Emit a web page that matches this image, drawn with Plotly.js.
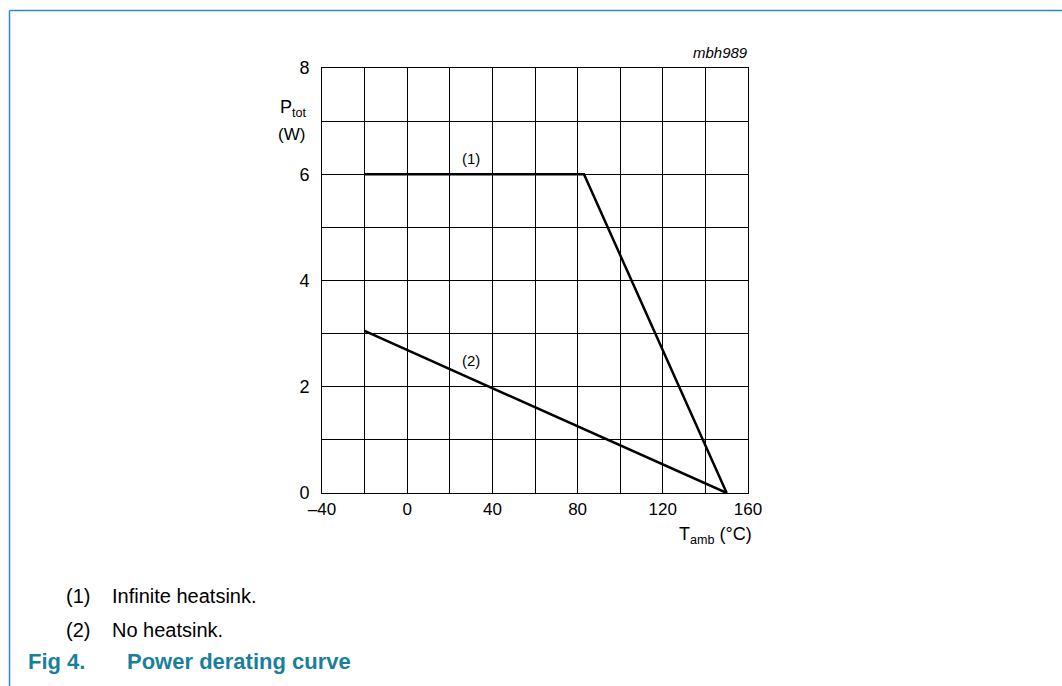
<!DOCTYPE html>
<html>
<head>
<meta charset="utf-8">
<script src="https://cdn.plot.ly/plotly-3.0.1.min.js"></script>
<style>
html,body{margin:0;padding:0;background:#fff;}
#chart{width:1062px;height:686px;}
</style>
</head>
<body>
<div id="chart"></div>
<script>
// ---- data ----
const tempInfinite = [-20, 83, 150];
const powerInfinite = [6, 6, 0];
const tempNoSink = [-20, 150];
const powerNoSink = [3.05, 0];
const xTickVals = [-40, 0, 40, 80, 120, 160];
const xTickText = ['\u201340', '0', '40', '80', '120', '160'];
const yTickVals = [0, 2, 4, 6, 8];
const curveLabels = ['(1)', '(2)'];
const curveLabelX = [30, 30];
const curveLabelY = [6.3, 2.5];
const noteNums = ['(1)', '(2)'];
const noteTexts = ['Infinite heatsink.', 'No heatsink.'];

// ---- layout helpers ----
const W = 1062, H = 686;
const L = 322, R = 748, T = 68, B = 493;
const px = x => (x - L) / (R - L);
const py = y => (B - y) / (B - T);
const FONT = 'Liberation Sans, Arial, sans-serif';
const teal = '#1a7f9c';

const traces = [
  {x: tempInfinite, y: powerInfinite, mode: 'lines', line: {color: '#000', width: 2.5}, hoverinfo: 'skip'},
  {x: tempNoSink, y: powerNoSink, mode: 'lines', line: {color: '#000', width: 2.5}, hoverinfo: 'skip'}
];

const annotations = [];
curveLabels.forEach((t, i) => annotations.push({
  x: curveLabelX[i], y: curveLabelY[i], xref: 'x', yref: 'y', text: t, showarrow: false,
  font: {family: FONT, size: 15, color: '#000'}
}));
annotations.push({x: px(750), y: py(53), xref: 'paper', yref: 'paper', xanchor: 'right', yanchor: 'middle',
  text: '<i>mbh989</i>', showarrow: false, font: {family: FONT, size: 15, color: '#000'}});
annotations.push({x: px(309), y: py(108), xref: 'paper', yref: 'paper', xanchor: 'right', yanchor: 'middle',
  text: 'P<sub>tot</sub>', showarrow: false, font: {family: FONT, size: 18, color: '#000'}});
annotations.push({x: px(307), y: py(134), xref: 'paper', yref: 'paper', xanchor: 'right', yanchor: 'middle',
  text: '(W)', showarrow: false, font: {family: FONT, size: 17, color: '#000'}});
annotations.push({x: px(754), y: py(535), xref: 'paper', yref: 'paper', xanchor: 'right', yanchor: 'middle',
  text: 'T<sub>amb</sub> (\u00B0C)', showarrow: false, font: {family: FONT, size: 18, color: '#000'}});
noteNums.forEach((n, i) => {
  const yy = [596, 630][i];
  annotations.push({x: px(64), y: py(yy), xref: 'paper', yref: 'paper', xanchor: 'left', yanchor: 'middle',
    text: n, showarrow: false, font: {family: FONT, size: 20, color: '#000'}});
  annotations.push({x: px(110), y: py(yy), xref: 'paper', yref: 'paper', xanchor: 'left', yanchor: 'middle',
    text: noteTexts[i], showarrow: false, font: {family: FONT, size: 20, color: '#000'}});
});
annotations.push({x: px(26), y: py(661), xref: 'paper', yref: 'paper', xanchor: 'left', yanchor: 'middle',
  text: '<b>Fig 4.</b>', showarrow: false, font: {family: FONT, size: 22, color: teal}});
annotations.push({x: px(125), y: py(661), xref: 'paper', yref: 'paper', xanchor: 'left', yanchor: 'middle',
  text: '<b>Power derating curve</b>', showarrow: false, font: {family: FONT, size: 22, color: teal}});

const shapes = [
  {type: 'line', xref: 'paper', yref: 'paper', x0: px(9.5), x1: px(1062), y0: py(10.5), y1: py(10.5), line: {color: '#2b8cc4', width: 1.5}},
  {type: 'line', xref: 'paper', yref: 'paper', x0: px(9.5), x1: px(9.5), y0: py(10.5), y1: py(686), line: {color: '#2b8cc4', width: 1.5}}
];

const layout = {
  width: W, height: H,
  margin: {l: L, r: W - R, t: T, b: H - B, pad: 0},
  paper_bgcolor: '#fff', plot_bgcolor: '#fff',
  showlegend: false,
  xaxis: {
    range: [-40, 160], tickvals: xTickVals, ticktext: xTickText,
    showgrid: true, gridcolor: '#000', gridwidth: 1,
    minor: {dtick: 20, tick0: 0, showgrid: true, gridcolor: '#000', gridwidth: 1},
    showline: true, linecolor: '#000', linewidth: 1, mirror: true,
    zeroline: false, ticks: '', ticklabelstandoff: 1,
    tickfont: {family: FONT, size: 17, color: '#000'}, fixedrange: true
  },
  yaxis: {
    range: [0, 8], tickvals: yTickVals,
    showgrid: true, gridcolor: '#000', gridwidth: 1,
    minor: {dtick: 1, tick0: 0, showgrid: true, gridcolor: '#000', gridwidth: 1},
    showline: true, linecolor: '#000', linewidth: 1, mirror: true,
    zeroline: false, ticks: '', ticklabelstandoff: 8,
    tickfont: {family: FONT, size: 18, color: '#000'}, fixedrange: true
  },
  annotations: annotations,
  shapes: shapes
};

Plotly.newPlot('chart', traces, layout, {displayModeBar: false, staticPlot: true});
</script>
</body>
</html>
